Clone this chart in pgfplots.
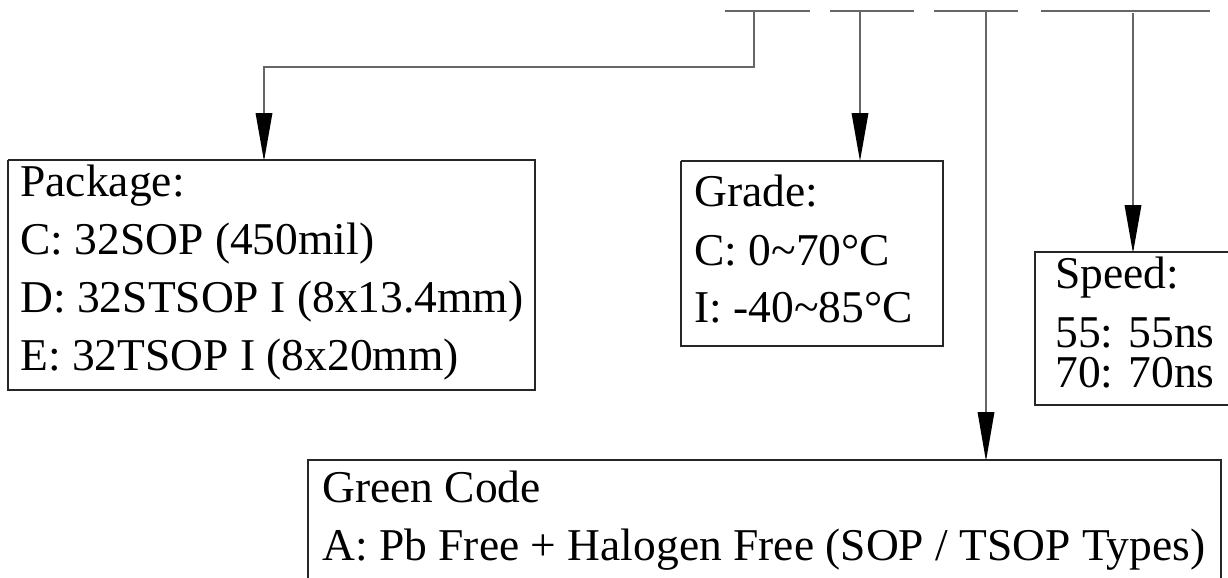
\documentclass[border=0pt]{standalone}
\usepackage{pgfplots}
\pgfplotsset{compat=1.18}
\usepackage{fontspec}
\setmainfont{Liberation Serif}
\newcommand{\fs}{\fontsize{22.75}{27}\selectfont}
\begin{document}
\begin{tikzpicture}
\begin{axis}[
  hide axis, scale only axis,
  width=614pt, height=289pt,
  xmin=0, xmax=1228, ymin=0, ymax=578,
  y dir=reverse,
  clip=true,
  every axis plot/.append style={no marks},
  conn/.style={draw=black!60, line width=0.6pt},
  boxl/.style={draw=black!85, line width=0.6pt},
  head/.style={fill=black, draw=none},
]
% top segments
\addplot[conn] coordinates {(725,11) (810,11)};
\addplot[conn] coordinates {(830,11) (914,11)};
\addplot[conn] coordinates {(934,11) (1018,11)};
\addplot[conn] coordinates {(1041,11) (1210,11)};
% connector 1 -> Package
\addplot[conn] coordinates {(754,11) (754,67) (264,67) (264,150)};
\addplot[head] coordinates {(255.5,113) (272.5,113) (264,161)} --cycle;
% connector 2 -> Grade
\addplot[conn] coordinates {(860,11) (860,150)};
\addplot[head] coordinates {(851.5,113) (868.5,113) (860,161)} --cycle;
% connector 3 -> Green Code
\addplot[conn] coordinates {(986,11) (986,450)};
\addplot[head] coordinates {(977.5,412) (994.5,412) (986,461)} --cycle;
% connector 4 -> Speed
\addplot[conn] coordinates {(1133,13) (1133,240)};
\addplot[head] coordinates {(1124.5,205) (1141.5,205) (1133,253)} --cycle;
% boxes
\addplot[boxl] coordinates {(8,160) (535,160) (535,390) (8,390) (8,160)};
\addplot[boxl] coordinates {(681,161) (943,161) (943,346) (681,346) (681,161)};
\addplot[boxl] coordinates {(1228,252) (1035,252) (1035,405) (1228,405)};
\addplot[boxl] coordinates {(308,578) (308,460) (1221,460) (1221,578)};
% texts
\node[anchor=base west, inner sep=0pt, font=\fs] at (axis cs:20,196) {Package:};
\node[anchor=base west, inner sep=0pt, font=\fs] at (axis cs:20,254) {C: 32SOP (450mil)};
\node[anchor=base west, inner sep=0pt, font=\fs] at (axis cs:20,312) {D: 32STSOP I (8x13.4mm)};
\node[anchor=base west, inner sep=0pt, font=\fs] at (axis cs:20,370) {E: 32TSOP I (8x20mm)};
\node[anchor=base west, inner sep=0pt, font=\fs] at (axis cs:694,206) {Grade:};
\node[anchor=base west, inner sep=0pt, font=\fs] at (axis cs:694,265) {C: 0\textasciitilde70°C};
\node[anchor=base west, inner sep=0pt, font=\fs] at (axis cs:694,322) {I: -40\textasciitilde85°C};
\node[anchor=base west, inner sep=0pt, font=\fs] at (axis cs:1055,288) {Speed:};
\node[anchor=base west, inner sep=0pt, font=\fs] at (axis cs:1055,347) {55: 55ns};
\node[anchor=base west, inner sep=0pt, font=\fs] at (axis cs:1055,387) {70: 70ns};
\node[anchor=base west, inner sep=0pt, font=\fs] at (axis cs:322,502) {Green Code};
\node[anchor=base west, inner sep=0pt, font=\fs] at (axis cs:322,560) {A: Pb Free + Halogen Free (SOP / TSOP Types)};
\end{axis}
\pgfresetboundingbox
\useasboundingbox (current axis.south west) rectangle (current axis.north east);
\end{tikzpicture}
\end{document}
